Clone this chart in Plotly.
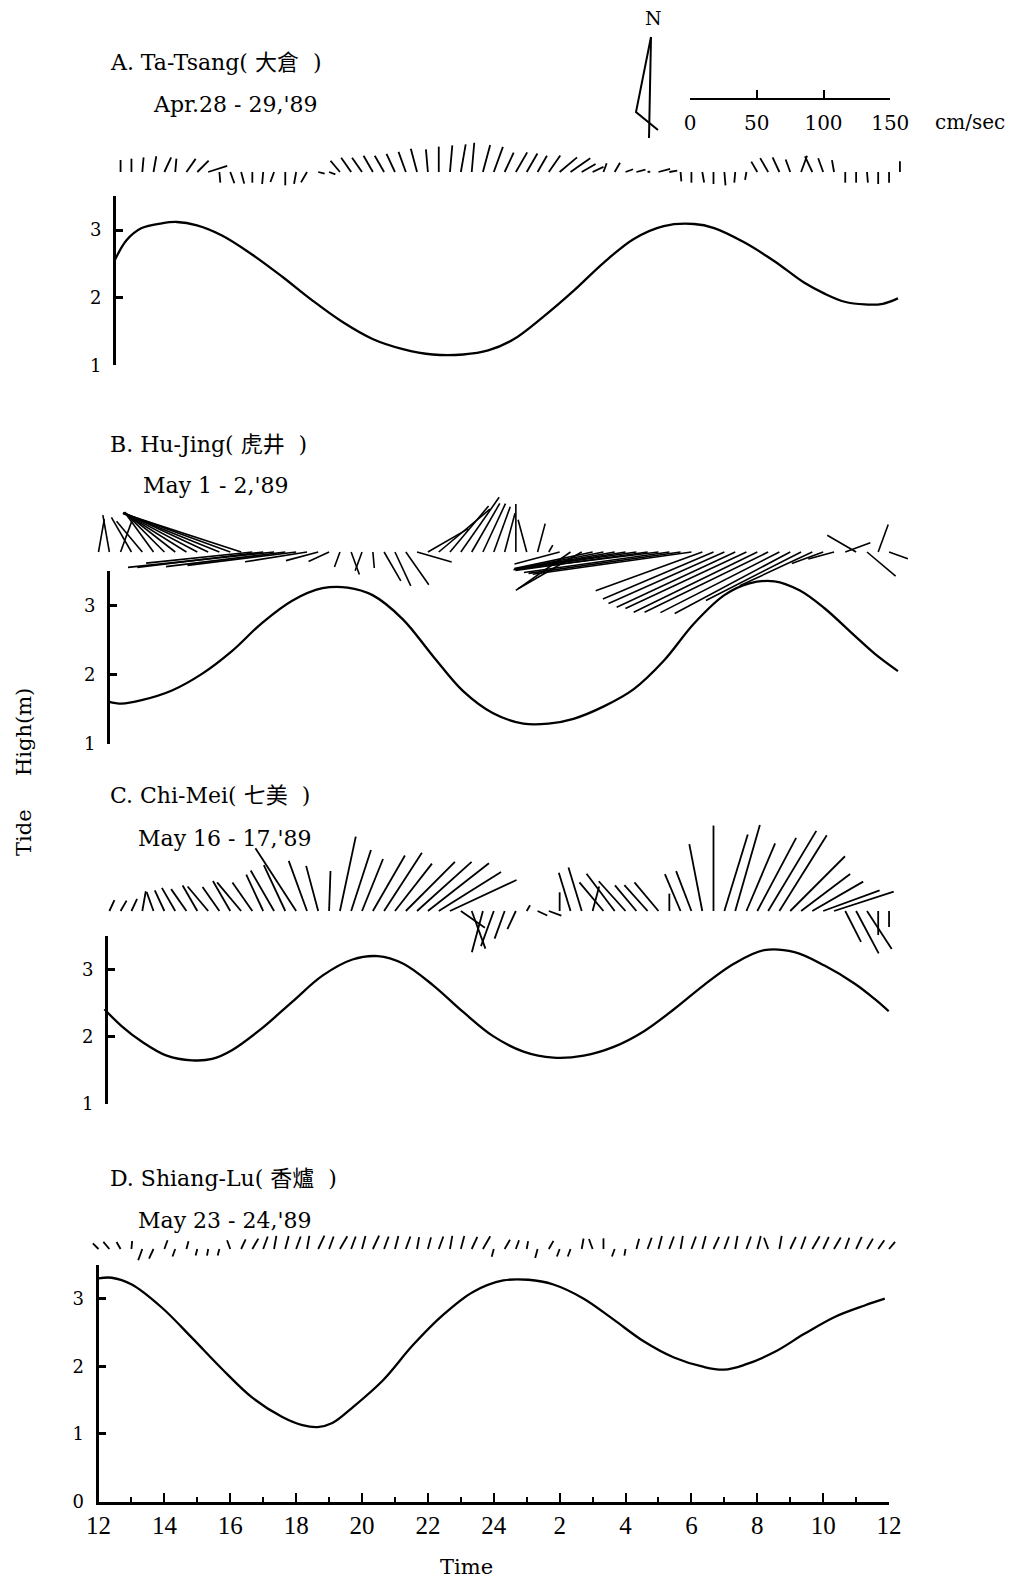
import math
import plotly.graph_objects as go

# ---------------- data ----------------
# observation times, hours after 12:00 of the first day (20-min sampling)
HOURS = [0.0, 0.33, 0.67, 1.0, 1.33, 1.67, 2.0, 2.33, 2.67, 3.0, 3.33, 3.67,
         4.0, 4.33, 4.67, 5.0, 5.33, 5.67, 6.0, 6.33, 6.67, 7.0, 7.33, 7.67,
         8.0, 8.33, 8.67, 9.0, 9.33, 9.67, 10.0, 10.33, 10.67, 11.0, 11.33, 11.67,
         12.0, 12.33, 12.67, 13.0, 13.33, 13.67, 14.0, 14.33, 14.67, 15.0, 15.33, 15.67,
         16.0, 16.33, 16.67, 17.0, 17.33, 17.67, 18.0, 18.33, 18.67, 19.0, 19.33, 19.67,
         20.0, 20.33, 20.67, 21.0, 21.33, 21.67, 22.0, 22.33, 22.67, 23.0, 23.33, 23.67,
         24.0, 24.33]

X_TICK_VALS = [0, 2, 4, 6, 8, 10, 12, 14, 16, 18, 20, 22, 24]
X_TICK_TEXT = ["12", "14", "16", "18", "20", "22", "24", "2", "4", "6", "8", "10", "12"]

# tide height (m)
TIDE_A_T = [0.49, 0.85, 1.31, 1.92, 2.38, 2.99, 3.75, 4.66, 5.58, 6.49, 7.41, 8.32, 9.24, 10.15,
            11.07, 11.83, 12.59, 13.51, 14.42, 15.34, 16.25, 17.16, 18.08, 18.69, 19.60, 20.52,
            21.43, 22.04, 22.65, 23.26, 23.81, 24.27]
TIDE_A_H = [2.55, 2.85, 3.03, 3.10, 3.12, 3.07, 2.92, 2.64, 2.31, 1.96, 1.64, 1.39, 1.24, 1.16,
            1.16, 1.22, 1.38, 1.72, 2.10, 2.52, 2.87, 3.06, 3.09, 3.03, 2.82, 2.54,
            2.22, 2.06, 1.94, 1.90, 1.91, 1.99]

TIDE_B_T = [0.30, 0.70, 1.31, 2.23, 3.14, 4.05, 4.97, 5.88, 6.80, 7.56, 8.32, 9.24, 10.15, 11.07,
            11.98, 12.90, 13.66, 14.42, 15.34, 16.25, 17.16, 18.08, 19.00, 19.76, 20.52, 21.28,
            22.04, 22.96, 23.57, 24.27]
TIDE_B_H = [1.61, 1.58, 1.63, 1.77, 2.01, 2.34, 2.75, 3.07, 3.25, 3.26, 3.15, 2.80, 2.27, 1.76,
            1.44, 1.29, 1.29, 1.36, 1.54, 1.79, 2.20, 2.74, 3.15, 3.32, 3.35, 3.22,
            2.96, 2.56, 2.30, 2.05]

TIDE_C_T = [0.18, 0.70, 1.31, 2.07, 2.84, 3.45, 4.05, 4.97, 5.88, 6.80, 7.71, 8.48, 9.24, 10.15,
            11.07, 11.98, 12.90, 13.81, 14.73, 15.64, 16.55, 17.47, 18.38, 19.30, 20.21, 21.13,
            22.04, 22.96, 23.57, 23.99]
TIDE_C_H = [2.41, 2.16, 1.93, 1.72, 1.65, 1.67, 1.80, 2.13, 2.52, 2.91, 3.15, 3.20, 3.09, 2.77,
            2.37, 2.01, 1.78, 1.69, 1.72, 1.85, 2.08, 2.41, 2.77, 3.09, 3.29, 3.26,
            3.06, 2.79, 2.56, 2.38]

TIDE_D_T = [0.0, 0.40, 1.01, 1.92, 2.84, 3.75, 4.66, 5.58, 6.19, 6.65, 7.10, 7.71, 8.63, 9.54,
            10.46, 11.37, 12.29, 13.05, 13.81, 14.73, 15.64, 16.55, 17.47, 18.38, 18.99, 19.60,
            20.52, 21.43, 22.35, 23.26, 23.87]
TIDE_D_H = [3.30, 3.31, 3.21, 2.87, 2.42, 1.96, 1.54, 1.25, 1.13, 1.10, 1.16, 1.39, 1.79, 2.31,
            2.76, 3.10, 3.27, 3.28, 3.21, 3.00, 2.69, 2.37, 2.13, 1.99, 1.95, 2.02,
            2.21, 2.48, 2.73, 2.90, 3.00]

# currents: direction toward (deg clockwise from N) and speed (cm/sec)
CUR_A_T = HOURS[2:74]
CUR_A_DIR = [0, 0, 5, 10, 25, 5, 35, 45, 72, 175, 160, 165, 180, 185, 200, 180, 190, 210, 105, 110,
             320, 325, 325, 330, 330, 335, 340, 345, 355, 0, 5, 10, 5, 15, 20, 25, 30, 30, 30, 35,
             50, 55, 60, 65, 20, 30, 70, 75, 80, 75, 80, 175, 180, 170, 180, 175, 185, 190, 330, 330,
             335, 340, 20, 335, 340, 350, 180, 180, 175, 180, 180, 0]
CUR_A_SPD = [9, 10, 11, 12, 12, 10, 12, 12, 15, 8, 9, 9, 8, 9, 8, 10, 9, 9, 5, 5,
             11, 13, 13, 14, 14, 15, 16, 18, 17, 19, 20, 21, 22, 21, 20, 16, 17, 16, 14, 15,
             17, 18, 12, 9, 7, 8, 6, 7, 2, 9, 6, 7, 8, 8, 9, 10, 8, 6, 9, 12,
             12, 10, 13, 13, 11, 9, 8, 8, 8, 9, 8, 8]

CUR_B_T = HOURS[0:73]
CUR_B_DIR = [10, 350, 20, 330, 320, 324, 315, 308, 302, 298,
             295, 292, 290, 288, 264, 263, 264, 263, 263, 261,
             255, 245, 200, 160, 200, 175, 150, 155, 145, 106,
             60, 50, 40, 35, 30, 25, 20, 15, 0, 345,
             15, 30, 255, 235, 240, 258, 259, 260, 261, 262,
             262, 263, 262, 262, 262, 250, 247, 246, 245, 245,
             244, 244, 243, 242, 243, 245, 250, 255, 70, 300,
             130, 20, 110]
CUR_B_SPD = [25, 28, 25, 30, 30, 37, 42, 48, 55, 62,
             70, 78, 85, 93, 80, 95, 110, 90, 82, 47,
             25, 17, 12, 18, 15, 12, 25, 28, 30, 27,
             35, 50, 45, 50, 42, 40, 36, 30, 36, 25,
             22, 6, 35, 50, 55, 60, 67, 75, 85, 92,
             100, 105, 110, 115, 120, 85, 90, 95, 98, 100,
             103, 103, 100, 98, 80, 60, 25, 20, 20, 25,
             28, 22, 15]

CUR_C_T = HOURS[1:73]
CUR_C_DIR = [25, 30, 25, 10, 340, 335, 330, 325, 330, 320,
             325, 330, 320, 325, 335, 330, 335, 327, 340, 345,
             2, 12, 18, 22, 30, 33, 38, 45, 48, 52,
             58, 65, 125, 160, 195, 200, 200, 205, 30, 115,
             110, 0, 343, 343, 15, 320, 323, 318, 320, 318,
             320, 0, 337, 339, 349, 0, 17, 16, 23, 28,
             31, 32, 45, 53, 60, 70, 72, 153, 152, 147,
             180, 180]
CUR_C_SPD = [9, 9, 10, 15, 15, 17, 20, 20, 22, 24,
             22, 26, 28, 26, 30, 35, 38, 56, 40, 35,
             30, 57, 48, 42, 48, 52, 45, 52, 55, 58,
             55, 55, 22, 30, 32, 28, 22, 15, 5, 8,
             10, 14, 30, 34, 19, 28, 35, 30, 25, 26,
             28, 13, 30, 32, 51, 64, 60, 67, 55, 62,
             70, 67, 58, 46, 44, 45, 47, 26, 36, 34,
             18, 12]

CUR_D_T = HOURS[0:73]
CUR_D_DIR = [315, 320, 330, 5, 200, 205, 20, 200, 15, 195,
             190, 195, 340, 25, 30, 20, 10, 15, 20, 10,
             25, 20, 30, 20, 15, 25, 20, 15, 20, 10,
             15, 20, 10, 15, 25, 30, 195, 30, 20, 10,
             195, 30, 200, 200, 10, 340, 0, 200, 190, 15,
             20, 15, 20, 10, 20, 15, 25, 20, 10, 20,
             15, 340, 10, 25, 20, 30, 25, 30, 20, 25,
             30, 35, 40]
CUR_D_SPD = [6, 7, 6, 6, 9, 8, 7, 6, 6, 5,
             5, 5, 7, 8, 9, 10, 10, 10, 10, 10,
             11, 10, 11, 10, 10, 11, 10, 10, 10, 9,
             9, 10, 10, 10, 10, 11, 6, 8, 7, 6,
             7, 7, 6, 6, 8, 8, 8, 6, 5, 8,
             9, 10, 10, 10, 10, 10, 10, 10, 10, 10,
             10, 9, 10, 10, 10, 11, 10, 10, 9, 10,
             9, 8, 7]

SCALE_TICKS = [0, 50, 100, 150]

# ---------------- layout geometry (pixels) ----------------
W, H = 1016, 1582
X0_PX = 98.5          # pixel of hour 0 (12:00)
PX_PER_HOUR = 32.94
PX_PER_CMS = 1.335    # stick length scale
KX = PX_PER_CMS / PX_PER_HOUR


def px_x(p):
    return p / W


def px_y(p):
    return 1 - p / H


FULL_RANGE = [(0 - X0_PX) / PX_PER_HOUR, (W - X0_PX) / PX_PER_HOUR]

SERIF = "DejaVu Serif, 'Noto Sans CJK TC', 'Noto Sans CJK SC', serif"
NUM = "Liberation Serif, serif"

panels = [
    dict(name="A", t=TIDE_A_T, h=TIDE_A_H, ct=CUR_A_T, cd=CUR_A_DIR, cs=CUR_A_SPD,
         axis_x=114, bottom_px=365.3, ppm=67.6, ymin=1, base=172, s_top=132, s_bot=212),
    dict(name="B", t=TIDE_B_T, h=TIDE_B_H, ct=CUR_B_T, cd=CUR_B_DIR, cs=CUR_B_SPD,
         axis_x=108, bottom_px=743.7, ppm=69.1, ymin=1, base=552, s_top=488, s_bot=640),
    dict(name="C", t=TIDE_C_T, h=TIDE_C_H, ct=CUR_C_T, cd=CUR_C_DIR, cs=CUR_C_SPD,
         axis_x=106, bottom_px=1104, ppm=67.2, ymin=1, base=911, s_top=815, s_bot=965),
    dict(name="D", t=TIDE_D_T, h=TIDE_D_H, ct=CUR_D_T, cd=CUR_D_DIR, cs=CUR_D_SPD,
         axis_x=98.5, bottom_px=1501.5, ppm=67.6, ymin=0, base=1249, s_top=1222, s_bot=1278),
]

fig = go.Figure()
layout = dict(
    width=W, height=H, autosize=False,
    margin=dict(l=0, r=0, t=0, b=0, pad=0),
    paper_bgcolor="white", plot_bgcolor="rgba(0,0,0,0)",
    showlegend=False, template="none",
    font=dict(family=SERIF, color="black", size=18),
)

layout["xaxis"] = dict(domain=[0, 1], range=FULL_RANGE, visible=False, fixedrange=True,
                       showgrid=False, zeroline=False)
layout["xaxis2"] = dict(domain=[px_x(X0_PX), px_x(X0_PX + 24 * PX_PER_HOUR)], range=[0, 24],
                        anchor="y4", showline=True, linewidth=2.5, linecolor="black",
                        ticks="inside", ticklen=9, tickwidth=2, tickcolor="black",
                        tickmode="array", tickvals=X_TICK_VALS, ticktext=X_TICK_TEXT,
                        minor=dict(ticks="inside", ticklen=5, tickwidth=1.5, dtick=1, tick0=0,
                                   tickcolor="black", showgrid=False),
                        tickfont=dict(family=NUM, size=25, color="black"),
                        ticklabelstandoff=0,
                        showgrid=False, zeroline=False, fixedrange=True)


def stick_xy(times, dirs, spds):
    xs, ys = [], []
    for t, d, s in zip(times, dirs, spds):
        r = math.radians(d)
        xs += [t, t + s * math.sin(r) * KX, None]
        ys += [0, s * math.cos(r), None]
    return xs, ys


for i, p in enumerate(panels):
    yk = "yaxis" if i == 0 else f"yaxis{i + 1}"
    ytr = "y" if i == 0 else f"y{i + 1}"
    top_px = p["bottom_px"] - (3.5 - p["ymin"]) * p["ppm"]
    vals = list(range(p["ymin"], 4)) + [3.5]
    txt = [str(v) for v in range(p["ymin"], 4)] + [""]
    ax = dict(domain=[px_y(p["bottom_px"]), px_y(top_px)], range=[p["ymin"], 3.5],
              showline=True, linewidth=3, linecolor="black",
              ticks="inside", ticklen=7, tickwidth=2.5, tickcolor="black",
              tickmode="array", tickvals=vals, ticktext=txt,
              tickfont=dict(family=SERIF, size=18, color="black"),
              ticklabelstandoff=8,
              showgrid=False, zeroline=False, fixedrange=True)
    if p["name"] == "D":
        ax["anchor"] = "x2"
        xtr = "x2"
    else:
        ax["anchor"] = "free"
        ax["position"] = px_x(p["axis_x"])
        xtr = "x"
    layout[yk] = ax
    fig.add_trace(go.Scatter(x=p["t"], y=p["h"], xaxis=xtr, yaxis=ytr, mode="lines",
                             line=dict(color="black", width=2.3, shape="spline", smoothing=1.0),
                             hoverinfo="skip"))

    # stick (current vector) axis
    sk = f"yaxis{i + 5}"
    str_ = f"y{i + 5}"
    layout[sk] = dict(domain=[px_y(p["s_bot"]), px_y(p["s_top"])],
                      range=[-(p["s_bot"] - p["base"]) / PX_PER_CMS, (p["base"] - p["s_top"]) / PX_PER_CMS],
                      anchor="x", visible=False, showgrid=False, zeroline=False, fixedrange=True)
    xs, ys = stick_xy(p["ct"], p["cd"], p["cs"])
    fig.add_trace(go.Scatter(x=xs, y=ys, xaxis="x", yaxis=str_, mode="lines",
                             line=dict(color="black", width=1.8 if p["name"] != "B" else 1.6),
                             hoverinfo="skip"))

# velocity scale bar as its own axis
layout["xaxis3"] = dict(domain=[px_x(690), px_x(690 + 150 * PX_PER_CMS)], range=[0, 150],
                        anchor="y9", showline=True, linewidth=2, linecolor="black",
                        ticks="inside", ticklen=8, tickwidth=2, tickcolor="black",
                        tickmode="array", tickvals=SCALE_TICKS,
                        ticktext=[str(v) for v in SCALE_TICKS],
                        tickfont=dict(family=SERIF, size=20, color="black"),
                        ticklabelstandoff=6,
                        showgrid=False, zeroline=False, fixedrange=True)
layout["yaxis9"] = dict(domain=[px_y(98), px_y(88)], range=[0, 1], anchor="x3", visible=False,
                        showgrid=False, zeroline=False, fixedrange=True)
fig.add_trace(go.Scatter(x=[], y=[], xaxis="x3", yaxis="y9", mode="lines", hoverinfo="skip"))

annos = []


def label(text, x, y, size=22, xanchor="left", angle=0, family=SERIF):
    annos.append(dict(text=text, x=px_x(x), y=px_y(y), xref="paper", yref="paper",
                      xanchor=xanchor, yanchor="middle", showarrow=False, textangle=angle,
                      font=dict(family=family, size=size, color="black")))


label("A. Ta-Tsang( 大倉  )", 108, 63)
label("Apr.28 - 29,'89", 151, 104)
label("B. Hu-Jing( 虎井  )", 108, 445)
label("May 1 - 2,'89", 141, 486)
label("C. Chi-Mei( 七美  )", 108, 795)
label("May 16 - 17,'89", 136, 838)
label("D. Shiang-Lu( 香爐  )", 108, 1178)
label("May 23 - 24,'89", 136, 1220)
label("Tide     High(m)", 24, 772, size=21, angle=-90, xanchor="center")
label("Time", 466, 1567, size=21, xanchor="center")
label("N", 653, 18, size=19, xanchor="center")
label("cm/sec", 970, 122, size=20, xanchor="center")


def path(points):
    s = ""
    for k, (x, y) in enumerate(points):
        s += ("M" if k == 0 else " L") + f" {px_x(x):.5f} {px_y(y):.5f}"
    return s


shapes = [
    dict(type="path", xref="paper", yref="paper", path=path([(651, 37), (649, 138)]),
         line=dict(color="black", width=2)),
    dict(type="path", xref="paper", yref="paper", path=path([(651, 37), (636, 112), (658, 130)]),
         line=dict(color="black", width=2)),
]

layout["annotations"] = annos
layout["shapes"] = shapes
fig.update_layout(**layout)

fig.write_html("out.html", config={"displayModeBar": False},
               post_script="document.body.style.margin='0px';document.body.style.overflow='hidden';")
